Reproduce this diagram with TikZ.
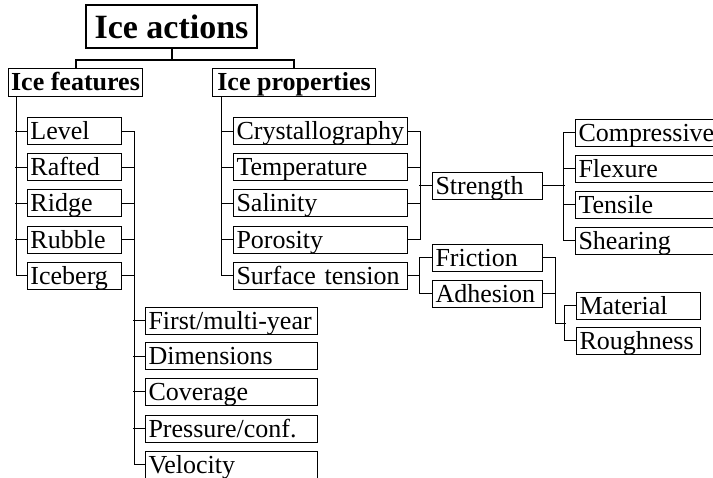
\documentclass[tikz,border=0pt]{standalone}
\usepackage{fontspec}
\setmainfont{Liberation Serif}

\tikzset{
  item/.style={draw, line width=1pt, anchor=west, align=left, inner xsep=3pt, inner ysep=1pt,
    text height=21pt, text depth=4pt, font=\fontsize{26}{26}\selectfont, text width=#1},
  head/.style={draw, line width=1pt, anchor=west, inner xsep=2pt, inner ysep=1pt,
    text height=21pt, text depth=5pt, font=\bfseries\fontsize{26}{26}\selectfont},
  link/.style={line width=1pt},
  toplink/.style={line width=2pt},
}

\begin{document}
\begin{tikzpicture}[x=1pt, y=-1pt]
\useasboundingbox (0,0) rectangle (713,478);

% top levels
\node[draw, line width=1.2pt, minimum width=171pt, minimum height=43pt, inner sep=0pt,
  font=\bfseries\fontsize{34}{34}\selectfont] (act) at (171.5,26.5) {Ice actions};
\node[head, minimum width=134pt] (feat) at (8,83) {Ice features};
\node[head, minimum width=163pt] (prop) at (212,83) {Ice properties};

% ice features
\node[item=88pt] (level) at (27,131.5) {Level};
\node[item=88pt] (rafted) at (27,167.5) {Rafted};
\node[item=88pt] (ridge) at (27,203.5) {Ridge};
\node[item=88pt] (rubble) at (27,240) {Rubble};
\node[item=88pt] (iceb) at (27,276) {Iceberg};

\node[item=166pt] (first) at (145,321) {First/multi-year};
\node[item=166pt] (dims) at (145,356.5) {Dimensions};
\node[item=166pt] (cover) at (145,392) {Coverage};
\node[item=166pt] (press) at (145,429) {Pressure/conf.};
\node[item=166pt] (velo) at (145,465) {Velocity};

% ice properties
\node[item=168pt] (cryst) at (233,131.5) {Crystallography};
\node[item=168pt] (temp) at (233,167.5) {Temperature};
\node[item=168pt] (sal) at (233,203.5) {Salinity};
\node[item=168pt] (poro) at (233,240) {Porosity};
\node[item=168pt] (surf) at (233,276) {Surface tension};

\node[item=104pt] (str) at (432,186) {Strength};
\node[item=104pt] (fric) at (432,258) {Friction};
\node[item=104pt] (adh) at (432,294) {Adhesion};

\node[item=136pt] (comp) at (575,133) {Compressive};
\node[item=136pt] (flex) at (575,169) {Flexure};
\node[item=136pt] (tens) at (575,205) {Tensile};
\node[item=136pt] (shear) at (575,241) {Shearing};

\node[item=118pt] (mat) at (576,306) {Material};
\node[item=118pt] (rough) at (576,341) {Roughness};

% connectors
\draw[toplink] (act.south) -- ++(0,11) coordinate (tj);
\draw[toplink] (feat.north) |- (tj) -| (prop.north);

\draw[link] ([xshift=8pt]feat.south west) |- (iceb.west);
\foreach \n in {level,rafted,ridge,rubble} \draw[link] (\n.west) -- ++(-12,0);
\draw[link] (level.east) -- ++(12,0) |- (velo.west);
\foreach \n in {rafted,ridge,rubble,iceb} \draw[link] (\n.east) -- ++(12,0);
\foreach \n in {first,dims,cover,press} \draw[link] (\n.west) -- ++(-12,0);

\draw[link] ([xshift=9pt]prop.south west) |- (surf.west);
\foreach \n in {cryst,temp,sal,poro} \draw[link] (\n.west) -- ++(-12,0);
\draw[link] (cryst.east) -- ++(12,0) |- (poro.east);
\foreach \n in {temp,sal} \draw[link] (\n.east) -- ++(12,0);
\draw[link] (str.west) -- ++(-13,0);

\draw[link] (str.east) -- ++(22,0);
\draw[link] (comp.west) -- ++(-12,0) |- (shear.west);
\foreach \n in {flex,tens} \draw[link] (\n.west) -- ++(-12,0);

\draw[link] (surf.east) -- ++(12,0);
\draw[link] (fric.west) -- ++(-13,0) |- (adh.west);

\path (mat.west) -- (rough.west) coordinate[pos=.5] (mrmid);
\draw[link] (fric.east) -- ++(12,0) |- ([xshift=-10pt]mrmid);
\draw[link] (adh.east) -- ++(12,0);
\draw[link] (mat.west) -- ++(-12,0) |- (rough.west);
\end{tikzpicture}
\end{document}
